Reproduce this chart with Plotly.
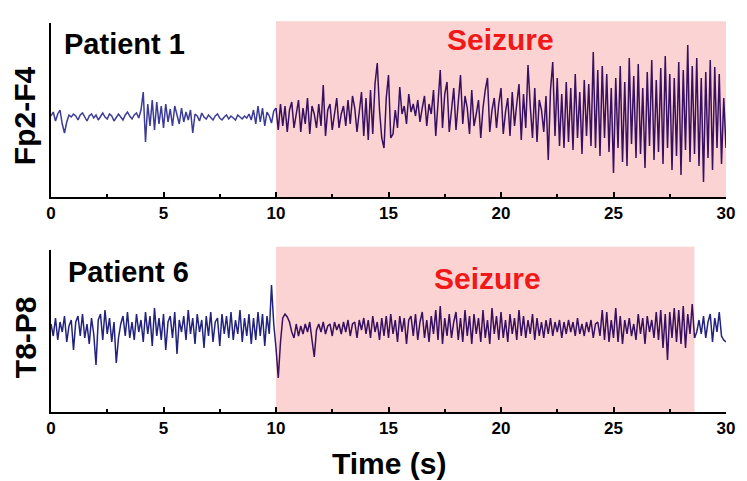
import plotly.graph_objects as go
from plotly.subplots import make_subplots

# ---------------- data (amplitude, arbitrary units, 0.1 s sampling) ----------------
DT = 0.1
P1_SEIZURE = (10.0, 30.0)
P6_SEIZURE = (10.0, 28.6)
TICK_VALS = [0, 5, 10, 15, 20, 25, 30]

p1_signal = [
    2, 6, -3, 4, 8, -6, -15, -4, 3, 1,
    4, 2, -2, 3, 5, 1, -3, 2, 4, 0,
    3, -2, 2, 5, 1, -1, 4, 2, -3, 1,
    4, 1, -2, 3, 6, 2, -1, 3, 5, 0,
    8, 26, -24, 14, -8, 18, -12, 16, -6, 12,
    -10, 14, -4, 9, -8, 12, 2, -6, 10, -4,
    6, -2, 8, -15, 4, 2, -3, 5, 1, -1,
    3, 1, -2, 2, 4, 0, -2, 1, 3, -1,
    2, 0, -2, 3, 1, -1, 2, 0, 4, -2,
    8, -6, 12, -4, 10, -8, 6, 2, -5, 7,
    10, -12, 14, -8, 12, -14, 8, 16, -10, 6,
    18, -14, 10, -6, 20, -16, 12, 4, -10, 14,
    -8, 33, -18, 8, 14, -12, 6, 20, -10, 4,
    12, -8, 18, -6, 22, 10, -14, 8, 26, -18,
    20, -22, 28, -16, 34, 55, 8, -20, -30, 20,
    43, -20, -16, 8, -10, 31, 4, 12, -6, 24,
    6, 14, 2, 18, -4, 10, 22, -8, 14, 4,
    28, -18, 12, 48, -10, 24, 36, -14, 8, 30,
    -12, 16, 43, -6, 22, 10, -16, 28, -8, 4,
    18, -20, 10, 28, 40, -14, 8, 20, -10, 14,
    30, -16, 6, 20, -18, 26, -8, 14, 34, -22,
    24, -10, 53, 12, -20, 30, -24, 18, 8, -14,
    22, -42, 28, 56, -18, 40, -28, 24, -30, 36,
    -24, 30, -32, 44, -20, 26, -36, 38, -18, 34,
    -28, 66, -30, 48, -38, 52, -20, 44, -34, 30,
    -55, 40, -30, 52, -44, 36, -48, 60, -26, 42,
    -40, 54, -36, 30, -50, 46, -28, 58, -42, 38,
    -34, 50, -46, 62, -30, 44, -52, 40, -38, 56,
    -57, 48, -32, 73, -44, 52, -36, 60, -48, 40,
    -64, 46, -40, 58, -52, 51, -30, 44, -46, 20, -30,
]

p6_signal = [
    4, -8, 10, -12, 6, -4, 12, -14, 2, 8,
    -22, 6, 12, -8, 14, -10, 4, -16, 10, -6,
    -37, 8, 14, -12, 18, -6, 10, -14, 6, -35,
    -10, 4, 12, -8, 16, -10, 6, -12, 14, -4,
    8, -14, 16, -6, 12, -18, 20, -8, 10, -12,
    14, -22, 6, 12, -10, 16, -26, 8, -4, 12,
    -12, 18, -6, 10, -16, 14, -4, 8, -20, 12,
    -8, 16, -14, 6, 10, -18, 14, -6, 12, -10,
    16, -12, 8, -6, 18, -14, 10, -8, 14, -16,
    10, -12, 16, -8, 14, -18, 12, -6, 43, 4,
    -20, -50, -14, 10, 14, 11, 6, -4, -10, 4,
    -8, 2, -6, 4, -4, 6, -12, -29, -2, 4,
    -4, 6, -6, 2, 4, -8, 6, -2, 4, -6,
    6, -4, 8, -8, 4, 6, -10, 8, -2, 10,
    -6, 8, -10, 12, -4, 6, -12, 10, -8, 12,
    -10, 14, -6, 8, -14, 12, -4, 10, -16, 8,
    12, -8, 14, -12, 6, 16, -10, 8, -14, 12,
    -6, 18, -12, 22, -16, 10, -8, 14, -10, 6,
    16, -12, 10, -14, 18, -8, 12, -16, 14, -6,
    10, -14, 18, -10, 8, -16, 20, -6, 12, -12,
    16, -10, 8, -14, 14, -6, 10, -12, 18, -8,
    12, -10, 8, -6, 14, -12, 10, -8, 6, -10,
    8, -6, 10, -8, 6, -4, 8, -10, 6, -6,
    8, -4, 6, -8, 10, -6, 4, -8, 6, -4,
    8, -10, 4, 6, -8, 18, -12, 16, -14, 8,
    -10, 20, -14, 12, -16, 8, -6, 10, -8, 4,
    -12, 14, -6, 10, -16, 12, -4, 8, -10, 16,
    -12, 18, -20, 14, -32, 16, -10, 20, -14, 18,
    -16, 22, -20, 14, -6, 24, -10, -4, 8, -6,
    12, -10, 6, 14, -14, 10, -4, 16, -8, -12, -14,
]

# ---------------- figure ----------------
OFF = 8                      # page body margin of the html page
W, H = 747 - OFF, 481 - OFF
ML, MR, MT, MB = 51 - OFF, 16, 23 - OFF, 69
PW, PH = W - ML - MR, H - MT - MB


def px(x):
    """reference-picture x pixel -> paper fraction"""
    return (x - OFF - ML) / PW


def py(y):
    """reference-picture y pixel -> paper fraction"""
    return (H - MB - (y - OFF)) / PH


fig = make_subplots(rows=2, cols=1, shared_xaxes=False, vertical_spacing=0.0)

P1_PRE_COLOR = "#3c3c98"
P6_PRE_COLOR = "#23237f"
SZ_COLOR = "#381060"
SHADE = "#fcd3d3"


def add_segments(sig, row, onset, offset, pre_color):
    t = [round(i * DT, 2) for i in range(len(sig))]
    i_on = int(round(onset / DT))
    i_off = int(round(offset / DT))
    segs = [(0, i_on, pre_color), (i_on, i_off, SZ_COLOR)]
    if i_off < len(sig) - 1:
        segs.append((i_off, len(sig) - 1, pre_color))
    for a, b, c in segs:
        fig.add_trace(
            go.Scatter(x=t[a:b + 1], y=sig[a:b + 1], mode="lines",
                       line=dict(color=c, width=1.5), showlegend=False,
                       hoverinfo="skip"),
            row=row, col=1)


add_segments(p1_signal, 1, *P1_SEIZURE, P1_PRE_COLOR)
add_segments(p6_signal, 2, *P6_SEIZURE, P6_PRE_COLOR)

# seizure shading
fig.add_shape(type="rect", xref="x", yref="y domain", x0=P1_SEIZURE[0], x1=P1_SEIZURE[1],
              y0=0, y1=1.01, fillcolor=SHADE, line_width=0, layer="below")
fig.add_shape(type="rect", xref="x2", yref="y2 domain", x0=P6_SEIZURE[0], x1=P6_SEIZURE[1],
              y0=0, y1=1.02, fillcolor=SHADE, line_width=0, layer="below")

tickfont = dict(family="Liberation Sans, Arial", size=17, color="black", weight="bold")
xcommon = dict(range=[0, 30], tickvals=TICK_VALS, ticktext=[str(v) for v in TICK_VALS],
               ticks="inside", ticklen=5, tickwidth=2, tickcolor="black",
               showline=True, linecolor="black", linewidth=2, showgrid=False,
               zeroline=False, tickfont=tickfont,
               minor=dict(tickvals=[2.5, 7.5, 12.5, 17.5, 22.5, 27.5], ticks="inside",
                          ticklen=3, tickwidth=2, tickcolor="black"))
ycommon = dict(showline=True, linecolor="black", linewidth=2, showgrid=False,
               zeroline=False, showticklabels=False, ticks="")

fig.update_xaxes(**xcommon)
fig.update_yaxes(**ycommon)
fig.update_layout(
    xaxis=dict(domain=[0, 1], anchor="y"),
    xaxis2=dict(domain=[0, 1], anchor="y2"),
    yaxis=dict(domain=[py(197), py(23)], range=[-79, 95]),
    yaxis2=dict(domain=[py(412), py(250)], range=[-84, 78]),
)

bold = dict(family="Liberation Sans, Arial", color="black", weight="bold")
red = dict(family="Liberation Sans, Arial", color="#f01818", weight="bold")
annots = [
    dict(text="Patient 1", x=px(62), y=py(44), xanchor="left", yanchor="middle", font=dict(size=29, **bold)),
    dict(text="Patient 6", x=px(66), y=py(272), xanchor="left", yanchor="middle", font=dict(size=29, **bold)),
    dict(text="Seizure", x=px(504), y=py(40), xanchor="center", yanchor="middle", font=dict(size=30, **red)),
    dict(text="Seizure", x=px(491), y=py(278), xanchor="center", yanchor="middle", font=dict(size=30, **red)),
    dict(text="Fp2-F4", x=px(24), y=py(116), xanchor="center", yanchor="middle", textangle=-90,
         font=dict(size=30, **bold)),
    dict(text="T8-P8", x=px(25), y=py(337), xanchor="center", yanchor="middle", textangle=-90,
         font=dict(size=30, **bold)),
    dict(text="Time (s)", x=px(391), y=py(463), xanchor="center", yanchor="middle",
         font=dict(size=30, **bold)),
]
for a in annots:
    a.update(xref="paper", yref="paper", showarrow=False)
fig.update_layout(annotations=annots)

fig.update_layout(width=W, height=H, margin=dict(l=ML, r=MR, t=MT, b=MB),
                  paper_bgcolor="white", plot_bgcolor="white")

fig.write_html("out.html")
